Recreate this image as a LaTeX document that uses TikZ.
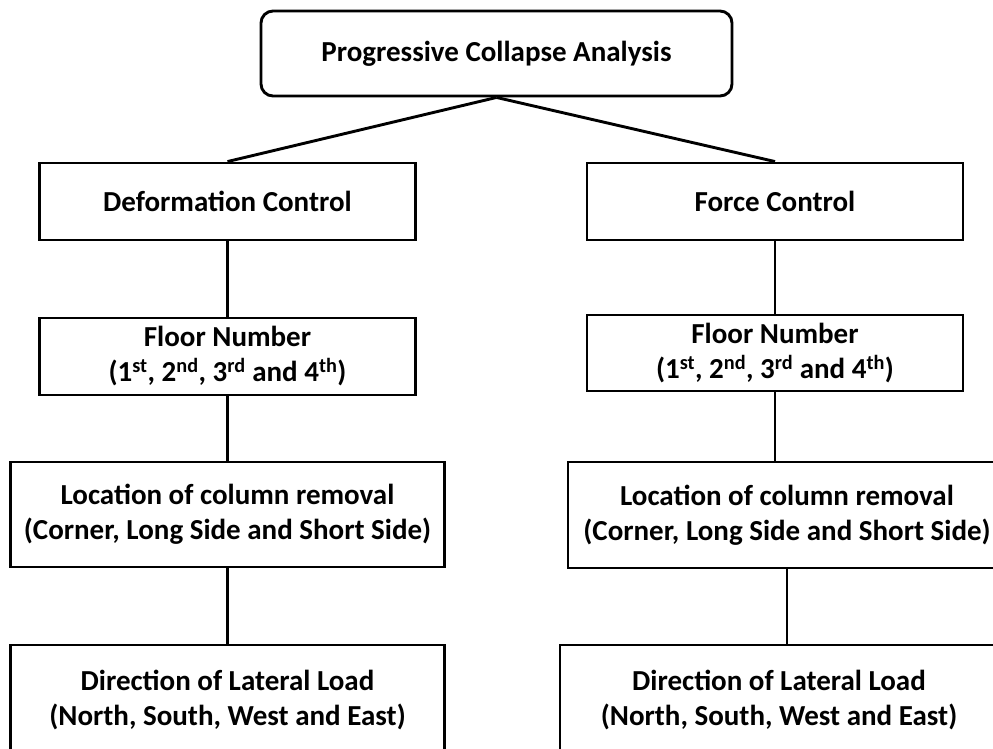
\documentclass[tikz,border=0pt]{standalone}
\usepackage{fontspec}
\setmainfont{Carlito}
\tikzset{%
    box/.style={%
        draw, line width=2.9pt, align=center, inner sep=0pt,
        font=\fontsize{29}{35}\selectfont\bfseries
    },
    link/.style={line width=2.9pt}
}

\begin{document}
\begin{tikzpicture}[x=1pt,y=-1pt]
\useasboundingbox (0,0) rectangle (993,748);
\clip (0,0) rectangle (993,748);

\node[box, rounded corners=12pt, minimum width=471pt, minimum height=85pt] (pca) at (496.5,53.5) {Progressive Collapse Analysis};

% left branch
\node[box, minimum width=376pt, minimum height=77pt] (dc) at (227.5,201.5) {Deformation Control};
\node[box, minimum width=376pt, minimum height=77pt] (dfl) at (227.5,356.5) {Floor Number\\(1\textsuperscript{st}, 2\textsuperscript{nd}, 3\textsuperscript{rd} and 4\textsuperscript{th})};
\node[box, minimum width=434pt, minimum height=105pt] (dlr) at (227.5,514.5) {Location of column removal\\(Corner, Long Side and Short Side)};
\node[box, minimum width=434pt, minimum height=110pt] (dld) at (227.5,700) {Direction of Lateral Load\\(North, South, West and East)};

% right branch
\node[box, minimum width=376pt, minimum height=77pt] (fc) at (775,201.5) {Force Control};
\node[box, minimum width=376pt, minimum height=76pt] (ffl) at (775,353) {Floor Number\\(1\textsuperscript{st}, 2\textsuperscript{nd}, 3\textsuperscript{rd} and 4\textsuperscript{th})};
\node[box, minimum width=438pt, minimum height=106pt] (flr) at (787,515) {Location of column removal\\(Corner, Long Side and Short Side)};
\node[box, minimum width=438pt, minimum height=110pt] (fld) at (779,700) {Direction of Lateral Load\\(North, South, West and East)};

\draw[link] (pca.south) -- (dc.north);
\draw[link] (pca.south) -- (fc.north);

\draw[link] (dc) -- (dfl);
\draw[link] (dfl) -- (dlr);
\draw[link] (dlr) -- (dld);

\draw[link] (fc) -- (ffl);
\draw[link] (ffl.south) -- (ffl.south |- flr.north);
\draw[link] (flr.south) -- (flr.south |- fld.north);
\end{tikzpicture}
\end{document}
